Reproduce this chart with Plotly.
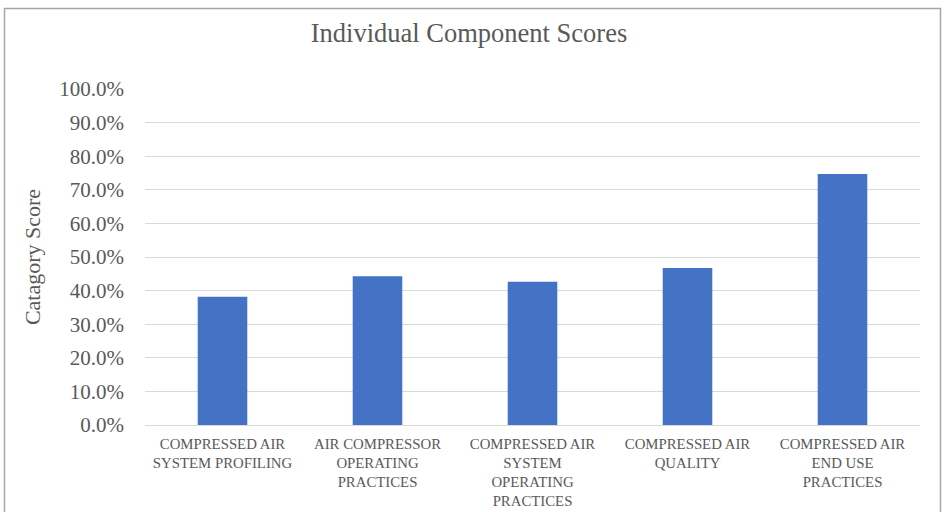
import plotly.graph_objects as go

categories = [
    "COMPRESSED AIR<br>SYSTEM PROFILING",
    "AIR COMPRESSOR<br>OPERATING<br>PRACTICES",
    "COMPRESSED AIR<br>SYSTEM<br>OPERATING<br>PRACTICES",
    "COMPRESSED AIR<br>QUALITY",
    "COMPRESSED AIR<br>END USE<br>PRACTICES",
]
scores = [0.382, 0.443, 0.426, 0.467, 0.747]
y_ticks = [i / 10 for i in range(11)]

W, H = 946, 512
L, R, T, B = 145, 26, 89, 87
pw, ph = W - L - R, H - T - B

def px_x(x):
    return (x - L) / pw

def px_y(y):
    return (H - B - y) / ph

serif = "Liberation Serif, Times New Roman, serif"
text_color = "#595959"

fig = go.Figure(
    go.Bar(
        x=categories,
        y=scores,
        marker=dict(color="#4472C4", line=dict(width=0)),
        width=0.32,
    )
)

fig.update_layout(
    width=W,
    height=H,
    margin=dict(l=L, r=R, t=T, b=B),
    paper_bgcolor="white",
    plot_bgcolor="white",
    showlegend=False,
    title=dict(
        text="Individual Component Scores",
        x=469 / W,
        xanchor="center",
        y=1 - 33 / H,
        yanchor="middle",
        font=dict(family=serif, size=26.5, color=text_color),
    ),
    font=dict(family=serif, color=text_color),
    xaxis=dict(
        automargin=False,
        showgrid=False,
        showline=True,
        linecolor="#d9d9d9",
        linewidth=1,
        ticks="",
        ticklabelstandoff=5,
        tickfont=dict(family=serif, size=14.8, color=text_color),
        tickangle=0,
    ),
    yaxis=dict(
        automargin=False,
        range=[0, 1],
        tickvals=y_ticks,
        tickformat=".1%",
        showgrid=True,
        gridcolor="#d9d9d9",
        gridwidth=1,
        zeroline=False,
        showline=False,
        ticks="",
        ticklabelstandoff=20,
        tickfont=dict(family=serif, size=21, color=text_color),
        title=dict(
            text="Catagory Score",
            font=dict(family=serif, size=22, color=text_color),
            standoff=12,
        ),
    ),
    shapes=[
        dict(
            type="rect",
            xref="paper",
            yref="paper",
            x0=px_x(4.5),
            x1=px_x(940.5),
            y0=px_y(530),
            y1=px_y(8.5),
            line=dict(color="#a6a6a6", width=1.5),
            fillcolor="rgba(0,0,0,0)",
            layer="below",
        )
    ],
)

fig.write_html("out.html")
